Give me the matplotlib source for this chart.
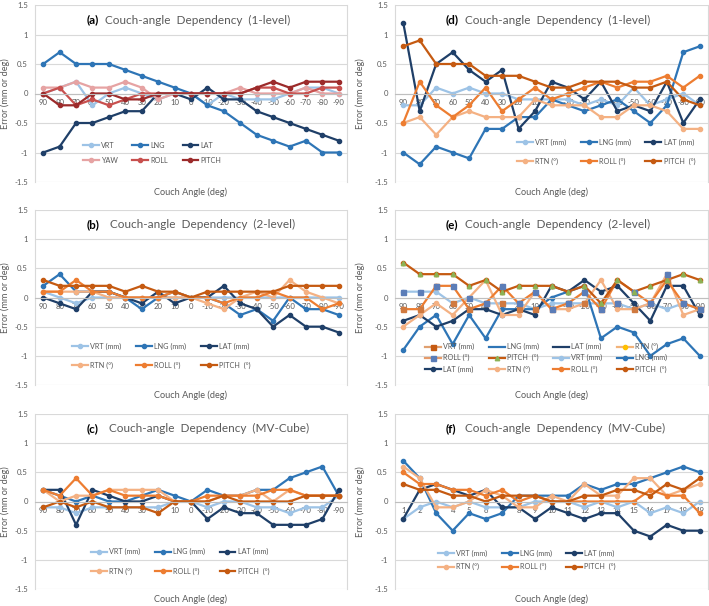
import numpy as np
import matplotlib.pyplot as plt
from matplotlib.lines import Line2D

plt.rcParams['font.family'] = ['Lato', 'DejaVu Sans']

angles = ['90', '80', '70', '60', '50', '40', '30', '20', '10', '0',
          '-10', '-20', '-30', '-40', '-50', '-60', '-70', '-80', '-90']
sessions = [str(i) for i in range(1, 20)]

# (a) 1-level, Novalis
a_vrt = [0, 0.1, 0.2, -0.2, 0, 0.1, 0, -0.1, 0, 0, -0.2, 0, -0.1, -0.1, -0.1, 0, 0.1, 0.1, 0]
a_lng = [0.5, 0.7, 0.5, 0.5, 0.5, 0.4, 0.3, 0.2, 0.1, 0, -0.2, -0.3, -0.5, -0.7, -0.8, -0.9, -0.8, -1.0, -1.0]
a_lat = [-1.0, -0.9, -0.5, -0.5, -0.4, -0.3, -0.3, 0, 0, -0.1, 0.1, -0.1, -0.1, -0.3, -0.4, -0.5, -0.6, -0.7, -0.8]
a_yaw = [0.1, 0.1, 0.2, 0.1, 0.1, 0.2, 0.1, -0.1, 0, 0, 0, 0, 0.1, 0, 0, 0, 0.1, 0, 0]
a_roll = [0, 0.1, -0.2, -0.1, -0.2, -0.1, 0, 0, 0, 0, 0, 0, 0, 0.1, 0.1, 0, 0, 0.1, 0.1]
a_pitch = [0, -0.2, -0.2, 0, 0, -0.1, -0.1, 0, 0, 0, 0, 0, 0, 0.1, 0.2, 0.1, 0.2, 0.2, 0.2]

# (b) 2-level
b_vrt = [0.1, 0, -0.1, 0, 0, 0, 0, 0, 0, 0, 0, 0, 0, 0, 0, 0, 0, 0, 0]
b_lng = [0.2, 0.4, 0.1, 0.1, 0.1, 0, -0.2, 0, 0.1, 0, 0, -0.1, -0.3, -0.2, -0.4, 0, -0.2, -0.2, -0.3]
b_lat = [0, -0.1, -0.2, 0.1, 0.1, 0, -0.1, 0.1, -0.1, 0, 0, 0.2, -0.1, -0.2, -0.5, -0.3, -0.5, -0.5, -0.6]
b_rtn = [0.1, 0.1, 0.1, 0.1, 0, 0, 0, 0, 0, 0, -0.1, -0.2, 0, 0.1, 0, 0.3, 0.1, 0, -0.1]
b_roll = [0.1, 0.1, 0.3, 0.1, 0.1, 0, 0, 0, 0.1, 0, 0, -0.1, 0, 0, 0.1, 0, 0, -0.2, -0.1]
b_pitch = [0.3, 0.2, 0.2, 0.2, 0.2, 0.1, 0.2, 0.1, 0.1, 0, 0.1, 0.1, 0.1, 0.1, 0.1, 0.2, 0.2, 0.2, 0.2]

# (c) MV-Cube
c_vrt = [-0.1, -0.1, -0.2, -0.1, -0.1, -0.1, -0.1, -0.1, 0, 0, -0.1, 0, 0, -0.1, -0.1, -0.2, -0.1, -0.1, 0.1]
c_lng = [0.2, 0.1, 0, 0.1, 0, 0, 0.1, 0.2, 0.1, 0, 0.2, 0.1, 0.1, 0.2, 0.2, 0.4, 0.5, 0.6, 0.1]
c_lat = [0.2, 0.2, -0.4, 0.2, 0.1, 0, 0, 0.1, 0, 0, -0.3, -0.1, -0.2, -0.2, -0.4, -0.4, -0.4, -0.3, 0.2]
c_rtn = [0.2, 0, 0.1, 0.1, 0.2, 0.2, 0.2, 0.2, 0, 0, 0, 0.1, 0.1, 0.2, 0, 0.2, 0.1, 0.1, 0.1]
c_roll = [0.2, 0.1, 0.4, 0.1, 0.2, 0.1, 0.1, 0.1, 0, 0, 0.1, 0.1, 0.1, 0.1, 0.2, 0.2, 0.1, 0.1, 0.1]
c_pitch = [-0.1, 0, -0.1, 0, -0.1, -0.1, -0.1, -0.2, 0, 0, 0, 0.1, 0, 0, 0, 0, 0.1, 0.1, 0.1]

# (d) 1-level
d_vrt = [-0.2, -0.2, 0.1, 0, 0.1, 0, 0, -0.1, -0.1, -0.1, -0.1, -0.2, -0.1, -0.2, 0.1, -0.2, -0.1, 0, -0.2]
d_lng = [-1.0, -1.2, -0.9, -1.0, -1.1, -0.6, -0.6, -0.4, -0.4, -0.1, -0.2, -0.3, -0.2, -0.1, -0.3, -0.5, -0.2, 0.7, 0.8]
d_lat = [1.2, -0.3, 0.5, 0.7, 0.4, 0.2, 0.4, -0.6, -0.3, 0.2, 0.1, -0.1, 0.2, -0.3, -0.2, -0.3, 0.2, -0.5, -0.1]
d_rtn = [-0.5, -0.4, -0.7, -0.4, -0.3, -0.4, -0.4, -0.4, -0.1, -0.2, -0.2, -0.2, -0.4, -0.4, -0.2, -0.2, -0.3, -0.6, -0.6]
d_roll = [-0.5, 0.2, -0.2, -0.4, -0.2, 0.1, -0.3, -0.1, 0.1, -0.1, 0, 0.1, 0.2, 0.1, 0.2, 0.2, 0.3, 0.1, 0.3]
d_pitch = [0.8, 0.9, 0.5, 0.5, 0.5, 0.3, 0.3, 0.3, 0.2, 0.1, 0.1, 0.2, 0.2, 0.2, 0.1, 0.1, 0.2, -0.1, -0.2]

# (e) 2-level
e_vrt = [0.1, 0.1, 0.1, -0.1, 0, -0.1, -0.1, -0.1, -0.2, -0.1, -0.1, -0.1, -0.1, -0.1, -0.2, -0.1, -0.2, -0.1, -0.2]
e_lng = [-0.9, -0.5, -0.3, -0.8, -0.3, -0.7, -0.2, -0.2, -0.2, 0, 0.1, 0.2, -0.7, -0.5, -0.6, -1.0, -0.8, -0.7, -1.0]
e_lat = [-0.4, -0.3, -0.5, -0.4, -0.2, -0.2, -0.3, -0.2, -0.3, 0.2, 0.1, 0.3, 0.1, 0.2, -0.1, -0.4, 0.2, 0.2, -0.3]
e_rtn = [-0.5, -0.3, -0.1, -0.3, 0, 0.3, -0.3, -0.3, 0.1, -0.2, -0.2, -0.1, 0.3, -0.2, -0.2, -0.1, 0.4, -0.3, -0.2]
e_roll = [-0.2, -0.2, 0.2, 0.2, -0.2, -0.1, 0.2, -0.1, 0.1, -0.2, -0.1, 0.1, -0.2, 0.3, 0.1, -0.1, 0.3, -0.1, -0.2]
e_pitch = [0.6, 0.4, 0.4, 0.4, 0.2, 0.3, 0.1, 0.2, 0.2, 0.2, 0.1, 0.2, -0.1, 0.3, 0.1, 0.2, 0.3, 0.4, 0.3]
# hidden duplicate series, only the square markers show
e_vrt_sq = [-0.2, -0.2, 0.2, -0.1, -0.2, -0.1, -0.1, -0.2, -0.2, -0.2, -0.1, -0.1, -0.2, -0.1, -0.2, -0.1, 0.3, -0.1, -0.2]
e_roll_sq = [0.1, 0.1, 0.2, 0.2, 0, -0.1, 0.2, -0.1, 0.1, -0.2, -0.1, 0.1, -0.2, -0.1, 0.1, -0.1, 0.4, -0.1, -0.2]

# (f) MV-Cube, sessions
f_vrt = [-0.3, -0.1, 0, -0.1, 0, -0.1, -0.1, -0.1, 0, 0, 0, -0.1, 0, -0.1, 0, -0.2, -0.1, -0.2, 0]
f_lng = [0.7, 0.4, -0.2, -0.5, -0.2, -0.3, -0.2, 0.1, 0.1, 0.1, 0.1, 0.3, 0.2, 0.3, 0.3, 0.4, 0.5, 0.6, 0.5]
f_lat = [-0.3, 0.2, 0.3, 0.2, 0.1, 0.2, -0.1, -0.1, -0.3, -0.1, -0.2, -0.3, -0.2, -0.2, -0.5, -0.6, -0.4, -0.5, -0.5]
f_rtn = [0.6, 0.4, -0.1, -0.1, 0, 0.2, 0.1, -0.1, -0.1, 0.1, 0, 0.3, 0.1, 0.1, 0.4, 0.4, 0.1, 0.2, 0.3]
f_roll = [0.5, 0.3, 0.3, 0.2, 0.2, 0.1, 0.2, 0, 0.1, 0, 0, 0, 0, 0, 0, 0.2, 0.1, 0.1, -0.2]
f_pitch = [0.3, 0.2, 0.2, 0.1, 0.1, 0, 0.1, 0.1, 0.1, 0, 0, 0.1, 0.1, 0.2, 0.2, 0.1, 0.3, 0.2, 0.4]

yticks = [1.5, 1, 0.5, 0, -0.5, -1, -1.5]
ytick_labels = ['1.5', '1', '0.5', '0', '-0.5', '-1', '-1.5']

c_vrt_col, c_lng_col, c_lat_col = '#9DC3E6', '#2E75B6', '#1F3F68'
c_rtn_col, c_roll_col, c_pitch_col = '#F4B183', '#ED7D31', '#C55A11'
c_yaw_col, c_red_col, c_dred_col = '#E6A3A3', '#C8504E', '#9C2B2B'
gray = '#595959'

W, H = 709, 606
fig = plt.figure(figsize=(W / 100, H / 100), dpi=100)


def make_axes(x0, x1, top, bottom):
    return fig.add_axes([x0 / W, (H - bottom) / H, (x1 - x0) / W, (bottom - top) / H])


def setup(ax, xlabels, tag, text, title_x, title_dx, ylab_x):
    n = len(xlabels)
    ax.set_xlim(-0.5, n - 0.5)
    ax.set_ylim(-1.5, 1.5)
    ax.set_yticks(yticks)
    ax.set_yticklabels(ytick_labels)
    ax.set_xticks(range(n))
    ax.set_xticklabels(xlabels)
    ax.grid(axis='y', color='#D9D9D9', lw=0.8)
    ax.set_axisbelow(True)
    ax.spines['bottom'].set_position(('data', 0))
    ax.spines['bottom'].set_color('#BFBFBF')
    ax.spines['top'].set_visible(False)
    for s in ['left', 'right']:
        ax.spines[s].set_color('#D9D9D9')
        ax.spines[s].set_linewidth(0.8)
    ax.tick_params(axis='both', length=0, labelsize=5.6, labelcolor=gray)
    ax.tick_params(axis='y', pad=5)
    ax.tick_params(axis='x', pad=4)
    ax.text(title_x, 0.915, tag, transform=ax.transAxes, fontsize=8.5,
            fontweight='bold', color='black', ha='left', va='center')
    ax.text(title_x + title_dx, 0.915, text, transform=ax.transAxes, fontsize=8.5,
            color=gray, ha='left', va='center')
    ax.text(0.5, -0.06, 'Couch Angle (deg)', transform=ax.transAxes, fontsize=6.6,
            color=gray, ha='center', va='center')
    ax.set_ylabel('Error (mm or deg)', fontsize=6.6, color=gray)
    ax.yaxis.set_label_coords(ylab_x, 0.5)


def draw(ax, series):
    handles = []
    for vals, label, col in series:
        h, = ax.plot(range(len(vals)), vals, color=col, lw=1.6, marker='o',
                     ms=3, label=label)
        handles.append(h)
    return handles


def legend(ax, handles, ncol, x, y, spacing):
    nrow = int(np.ceil(len(handles) / ncol))
    order = [r * ncol + c for c in range(ncol) for r in range(nrow)]
    leg = ax.legend([handles[i] for i in order],
                    [handles[i].get_label() for i in order],
                    ncol=ncol, loc='upper left', bbox_to_anchor=(x, y),
                    frameon=False, fontsize=5.2, handlelength=2.2,
                    handletextpad=0.3, columnspacing=2.0, labelspacing=spacing,
                    borderpad=0, borderaxespad=0)
    for t in leg.get_texts():
        t.set_color(gray)


L0, L1 = 35, 347
R0, R1 = 395, 708
rows = [(5, 182), (210, 385), (414, 589)]
YL_L, YL_R = -0.08, -0.097

# (a)
ax = make_axes(L0, L1, *rows[0])
setup(ax, angles, '(a)', 'Couch-angle  Dependency  (1-level)', 0.167, 0.058, YL_L)
hs = draw(ax, [(a_vrt, 'VRT', c_vrt_col), (a_lng, 'LNG', c_lng_col), (a_lat, 'LAT', c_lat_col),
               (a_yaw, 'YAW', c_yaw_col), (a_roll, 'ROLL', c_red_col), (a_pitch, 'PITCH', c_dred_col)])
legend(ax, hs, 3, 0.154, 0.228, 1.15)

# (b)
ax = make_axes(L0, L1, *rows[1])
setup(ax, angles, '(b)', 'Couch-angle  Dependency  (2-level)', 0.167, 0.072, YL_L)
hs = draw(ax, [(b_vrt, 'VRT (mm)', c_vrt_col), (b_lng, 'LNG (mm)', c_lng_col), (b_lat, 'LAT (mm)', c_lat_col),
               (b_rtn, 'RTN (°)', c_rtn_col), (b_roll, 'ROLL (°)', c_roll_col), (b_pitch, 'PITCH  (°)', c_pitch_col)])
legend(ax, hs, 3, 0.12, 0.243, 1.65)

# (c)
ax = make_axes(L0, L1, *rows[2])
setup(ax, angles, '(c)', 'Couch-angle  Dependency  (MV-Cube)', 0.167, 0.07, YL_L)
hs = draw(ax, [(c_vrt, 'VRT (mm)', c_vrt_col), (c_lng, 'LNG (mm)', c_lng_col), (c_lat, 'LAT (mm)', c_lat_col),
               (c_rtn, 'RTN (°)', c_rtn_col), (c_roll, 'ROLL (°)', c_roll_col), (c_pitch, 'PITCH  (°)', c_pitch_col)])
legend(ax, hs, 3, 0.18, 0.233, 1.65)

# (d)
ax = make_axes(R0, R1, *rows[0])
setup(ax, angles, '(d)', 'Couch-angle  Dependency  (1-level)', 0.163, 0.062, YL_R)
hs = draw(ax, [(d_vrt, 'VRT (mm)', c_vrt_col), (d_lng, 'LNG (mm)', c_lng_col), (d_lat, 'LAT (mm)', c_lat_col),
               (d_rtn, 'RTN (°)', c_rtn_col), (d_roll, 'ROLL (°)', c_roll_col), (d_pitch, 'PITCH  (°)', c_pitch_col)])
legend(ax, hs, 3, 0.39, 0.245, 1.65)

# (e) with the duplicate series Excel left behind
ax = make_axes(R0, R1, *rows[1])
setup(ax, angles, '(e)', 'Couch-angle  Dependency  (2-level)', 0.163, 0.062, YL_R)
x = range(len(angles))
hs2 = draw(ax, [(e_vrt, 'VRT (mm)', c_vrt_col), (e_lng, 'LNG (mm)', c_lng_col), (e_lat, 'LAT (mm)', c_lat_col),
                (e_rtn, 'RTN (°)', c_rtn_col), (e_roll, 'ROLL (°)', c_roll_col), (e_pitch, 'PITCH  (°)', c_pitch_col)])
ax.plot(x, e_vrt_sq, ls='none', marker='s', ms=3.6, color='#D07A40', zorder=3)
ax.plot(x, e_roll_sq, ls='none', marker='s', ms=3.6, color='#5B7DB8', zorder=3)
ax.plot(x, e_pitch, ls='none', marker='^', ms=3.2, color='#8DB255', zorder=3)
hs1 = [Line2D([], [], color='#E0A070', lw=1.6, marker='s', ms=3.6, mfc='#C55A11', mec='#C55A11', label='VRT (mm)'),
       Line2D([], [], color=c_lng_col, lw=1.6, label='LNG (mm)'),
       Line2D([], [], color=c_lat_col, lw=1.6, label='LAT (mm)'),
       Line2D([], [], color='#F2B37A', lw=1.6, marker='o', ms=3, mfc='#FFC000', mec='#FFC000', label='RTN (°)'),
       Line2D([], [], color='#E59A6A', lw=1.6, marker='s', ms=3.6, mfc='#5B7DB8', mec='#5B7DB8', label='ROLL (°)'),
       Line2D([], [], color=c_pitch_col, lw=1.6, marker='^', ms=3.2, mfc='#8DB255', mec='#8DB255', label='PITCH  (°)')]
legend(ax, hs1 + hs2, 4, 0.096, 0.24, 0.55)

# (f)
ax = make_axes(R0, R1, *rows[2])
setup(ax, sessions, '(f)', 'Couch-angle  Dependency  (MV-Cube)', 0.163, 0.062, YL_R)
hs = draw(ax, [(f_vrt, 'VRT (mm)', c_vrt_col), (f_lng, 'LNG (mm)', c_lng_col), (f_lat, 'LAT (mm)', c_lat_col),
               (f_rtn, 'RTN (°)', c_rtn_col), (f_roll, 'ROLL (°)', c_roll_col), (f_pitch, 'PITCH  (°)', c_pitch_col)])
legend(ax, hs, 3, 0.137, 0.224, 0.85)

fig.savefig('out.png', dpi=100)
